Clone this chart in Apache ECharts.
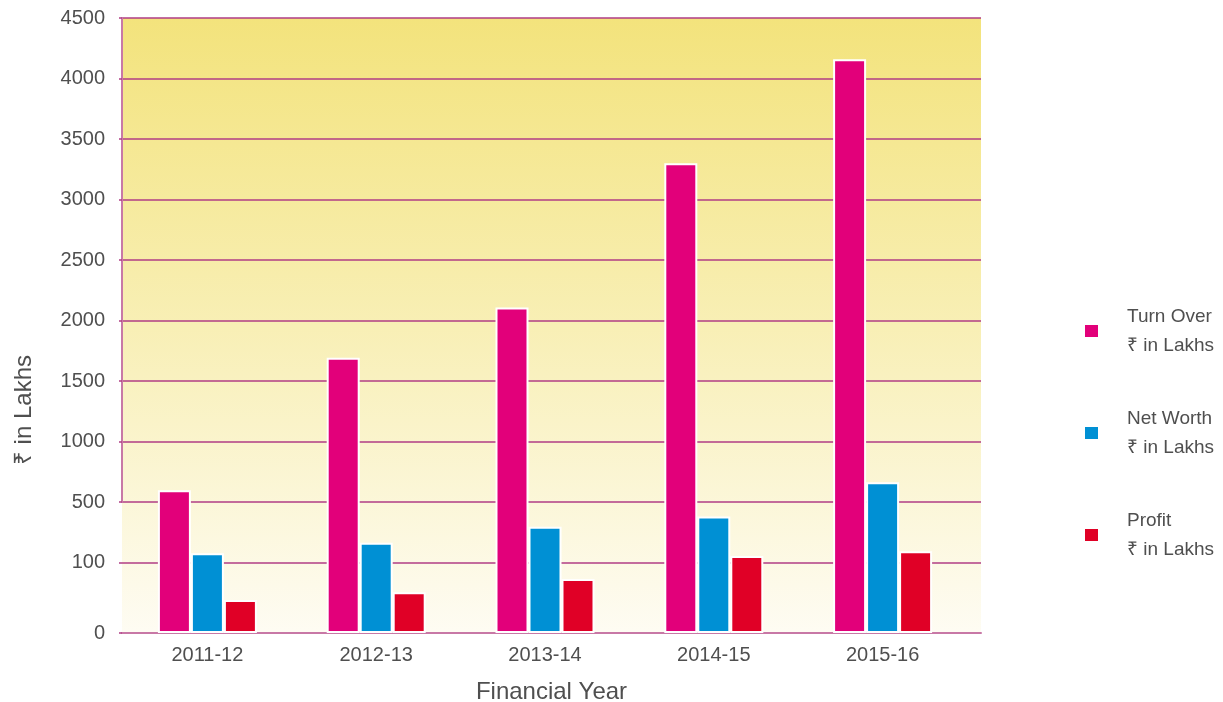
<!DOCTYPE html>
<html><head><meta charset="utf-8">
<script src="https://cdn.jsdelivr.net/npm/echarts@6/dist/echarts.min.js"></script>
<style>html,body{margin:0;padding:0;background:#fff}#c{width:1223px;height:702px}</style>
</head><body><div id="c"></div>
<script>
const categories = ['2011-12', '2012-13', '2013-14', '2014-15', '2015-16'];
const turnOver = [598, 1693, 2108, 3300, 4160];
const netWorth = [164, 232, 338, 404, 664];
const profit = [47, 58, 77, 146, 177];
const yTickValues = [0, 100, 500, 1000, 1500, 2000, 2500, 3000, 3500, 4000, 4500];
const legendNames = ['Turn Over', 'Net Worth', 'Profit'];
const unitText = '₹ in Lakhs';

const FONT = 'Liberation Sans, Arial, sans-serif';
const TXT = '#4f4f4f';
const GRIDC = '#b03c84';
const AXISC = '#c878a6';
const colors = ['#e2007a', '#0090d4', '#e00026'];

const yBreaks = [
  { start: 0, end: 100, gap: '11.4%' },
  { start: 100, end: 500, gap: '9.9%' }
];

function yAxisCfg(gridIndex, visible) {
  return {
    gridIndex, type: 'value', min: 0, max: 4500,
    breaks: yBreaks,
    breakArea: { show: false },
    axisLine: { show: visible, lineStyle: { color: AXISC, width: 2 } },
    axisTick: { show: visible, length: 3, customValues: yTickValues, lineStyle: { color: GRIDC, width: 1.5 } },
    axisLabel: { show: visible, customValues: yTickValues, margin: 17, fontSize: 20, color: TXT, fontFamily: FONT,
      formatter: v => String(v) },
    splitLine: { show: visible, lineStyle: { color: GRIDC, width: 1.5 } }
  };
}

const chart = echarts.init(document.getElementById('c'));
chart.setOption({
  animation: false,
  color: colors,
  grid: [
    { left: 122, top: 18, width: 859, height: 615, show: true, borderWidth: 0, outerBoundsMode: 'none', containLabel: false,
      backgroundColor: new echarts.graphic.LinearGradient(0, 0, 0, 1, [
        { offset: 0, color: '#f3e37c' }, { offset: 0.5, color: '#f8efb5' }, { offset: 1, color: '#fefcf3' }
      ]) },
    { left: 123, top: 18, width: 844, height: 615, outerBoundsMode: 'none', containLabel: false }
  ],
  xAxis: [
    { gridIndex: 0, type: 'category', data: categories,
      axisLine: { lineStyle: { color: AXISC, width: 2 } }, axisTick: { show: false }, axisLabel: { show: false },
      name: 'Financial Year', nameLocation: 'middle', nameGap: 47,
      nameTextStyle: { fontSize: 24, color: TXT, fontFamily: FONT } },
    { gridIndex: 1, type: 'category', data: categories,
      axisLine: { show: false }, axisTick: { show: false },
      axisLabel: { margin: 12, fontSize: 20, color: TXT, fontFamily: FONT } }
  ],
  yAxis: [yAxisCfg(0, true), yAxisCfg(1, false)],
  legend: {
    orient: 'vertical', left: 1083, top: 302, padding: 0, itemWidth: 15, itemHeight: 14, itemGap: 44,
    icon: 'rect', data: legendNames,
    formatter: name => name + '\n' + unitText,
    textStyle: { fontSize: 19, lineHeight: 29, color: TXT, fontFamily: FONT, padding: [0, 0, 0, 23] }
  },
  graphic: [{
    type: 'text', left: 12, top: 355, rotation: Math.PI / 2,
    style: { text: unitText, fontSize: 24, fill: TXT, fontFamily: FONT }
  }],
  series: [
    { name: 'Turn Over', type: 'bar', xAxisIndex: 1, yAxisIndex: 1, data: turnOver },
    { name: 'Net Worth', type: 'bar', xAxisIndex: 1, yAxisIndex: 1, data: netWorth },
    { name: 'Profit', type: 'bar', xAxisIndex: 1, yAxisIndex: 1, data: profit }
  ].map(s => Object.assign(s, { barWidth: 33, barGap: '0%', itemStyle: { borderColor: '#ffffff', borderWidth: 2 } }))
});
</script></body></html>
